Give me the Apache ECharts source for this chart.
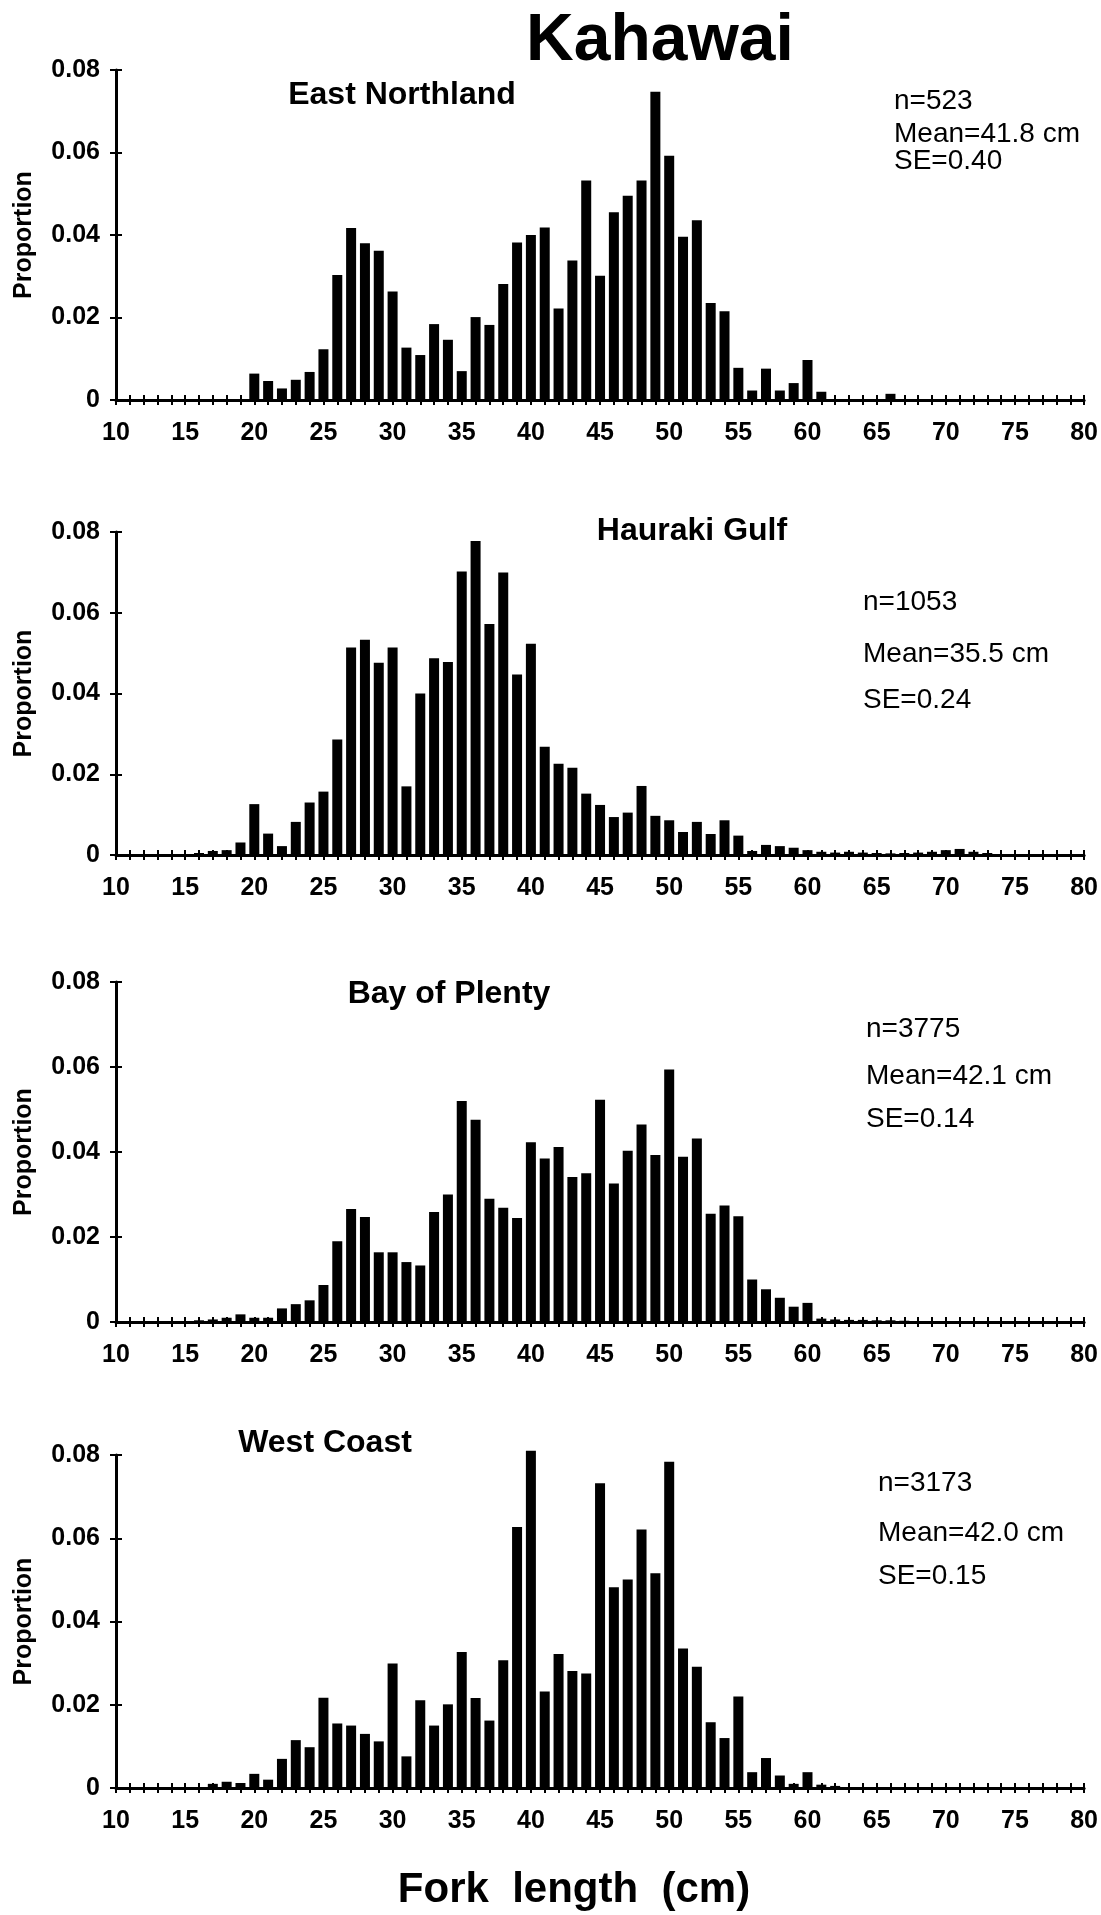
<!DOCTYPE html>
<html>
<head>
<meta charset="utf-8">
<script src="https://cdn.jsdelivr.net/npm/echarts@6/dist/echarts.min.js"></script>
<style>
html, body { margin: 0; padding: 0; background: #fff; }
#main { width: 1101px; height: 1915px; }
</style>
</head>
<body>
<div id="main"></div>
<script>
// fork length classes (cm)
var lengths = [10,11,12,13,14,15,16,17,18,19,20,21,22,23,24,25,26,27,28,29,
  30,31,32,33,34,35,36,37,38,39,40,41,42,43,44,45,46,47,48,49,
  50,51,52,53,54,55,56,57,58,59,60,61,62,63,64,65,66,67,68,69,
  70,71,72,73,74,75,76,77,78,79,80];

var eastNorthland = [0,0,0,0,0,0,0,0,0,0,
  0.0064,0.0046,0.0028,0.0049,0.0068,0.0123,0.0303,0.0417,0.0380,0.0362,
  0.0263,0.0127,0.0109,0.0184,0.0146,0.0070,0.0201,0.0182,0.0281,0.0382,
  0.0400,0.0418,0.0222,0.0338,0.0532,0.0301,0.0455,0.0495,0.0532,0.0747,
  0.0592,0.0396,0.0436,0.0235,0.0215,0.0078,0.0023,0.0076,0.0023,0.0041,
  0.0097,0.0020,0,0,0,0,0.0015,0,0,0,
  0,0,0,0,0,0,0,0,0,0,0];

var haurakiGulf = [0,0,0,0,0,0,0.0005,0.0010,0.0012,0.0031,
  0.0126,0.0053,0.0022,0.0082,0.0130,0.0157,0.0286,0.0514,0.0533,0.0476,
  0.0514,0.0170,0.0400,0.0487,0.0478,0.0702,0.0778,0.0572,0.0700,0.0447,
  0.0523,0.0268,0.0226,0.0216,0.0152,0.0124,0.0094,0.0105,0.0171,0.0097,
  0.0086,0.0057,0.0082,0.0052,0.0086,0.0048,0.0010,0.0025,0.0022,0.0018,
  0.0012,0.0008,0.0006,0.0008,0.0006,0.0005,0.0004,0.0005,0.0006,0.0008,
  0.0012,0.0015,0.0008,0.0005,0,0,0,0,0,0,0];

var bayOfPlenty = [0,0,0,0,0,0,0.0004,0.0006,0.0010,0.0018,
  0.0010,0.0010,0.0032,0.0042,0.0051,0.0087,0.0190,0.0266,0.0247,0.0164,
  0.0164,0.0141,0.0133,0.0259,0.0300,0.0520,0.0476,0.0290,0.0269,0.0245,
  0.0423,0.0385,0.0412,0.0341,0.0350,0.0523,0.0326,0.0403,0.0465,0.0393,
  0.0594,0.0389,0.0432,0.0255,0.0274,0.0249,0.0100,0.0077,0.0057,0.0036,
  0.0045,0.0008,0.0006,0.0005,0.0005,0.0004,0.0004,0.0003,0,0,
  0,0,0,0,0,0,0,0,0,0,0];

var westCoast = [0,0,0,0,0,0,0,0.0010,0.0015,0.0012,
  0.0034,0.0020,0.0070,0.0115,0.0098,0.0217,0.0155,0.0150,0.0130,0.0112,
  0.0299,0.0076,0.0211,0.0150,0.0201,0.0327,0.0216,0.0162,0.0307,0.0627,
  0.0810,0.0232,0.0322,0.0281,0.0275,0.0732,0.0482,0.0501,0.0621,0.0516,
  0.0784,0.0335,0.0291,0.0158,0.0120,0.0220,0.0038,0.0072,0.0030,0.0010,
  0.0038,0.0008,0.0005,0,0,0,0,0,0,0,
  0,0,0,0,0,0,0,0,0,0,0];

var regionNames = ['East Northland', 'Hauraki Gulf', 'Bay of Plenty', 'West Coast'];
var regionStats = [
  ['n=523', 'Mean=41.8 cm', 'SE=0.40'],
  ['n=1053', 'Mean=35.5 cm', 'SE=0.24'],
  ['n=3775', 'Mean=42.1 cm', 'SE=0.14'],
  ['n=3173', 'Mean=42.0 cm', 'SE=0.15']
];
var regionData = [eastNorthland, haurakiGulf, bayOfPlenty, westCoast];

// layout of each panel (pixels)
var panels = [
  {top: 70,   height: 330, title: [402, 95],   stats: [894, [101, 134, 161]]},
  {top: 532,  height: 323, title: [692, 531],  stats: [863, [602, 654, 700]]},
  {top: 982,  height: 340, title: [449, 994],  stats: [866, [1029, 1076, 1119]]},
  {top: 1455, height: 333, title: [325, 1443], stats: [878, [1483, 1533, 1576]]}
];

var FONT = 'Liberation Sans';
var gridLeft = 116, gridWidth = 969;

var grids = [], xAxes = [], yAxes = [], series = [], graphics = [];

panels.forEach(function (p, i) {
  grids.push({left: gridLeft, top: p.top, width: gridWidth, height: p.height});

  var xBase = {
    gridIndex: i, type: 'value', min: 10, max: 80, interval: 1, position: 'bottom',
    splitLine: {show: false}
  };
  xAxes.push(Object.assign({}, xBase, {
    axisLine: {lineStyle: {color: '#000', width: 3}},
    axisTick: {length: 5, lineStyle: {color: '#000', width: 2}},
    axisLabel: {
      color: '#000', fontFamily: FONT, fontWeight: 'bold', fontSize: 25, margin: 21,
      formatter: function (v) { return v % 5 === 0 ? String(v) : ''; }
    }
  }));
  xAxes.push(Object.assign({}, xBase, {
    axisLine: {show: false},
    axisTick: {inside: true, length: 5, lineStyle: {color: '#000', width: 2}},
    axisLabel: {show: false}
  }));

  var yBase = {
    gridIndex: i, type: 'value', min: 0, max: 0.08, interval: 0.02, position: 'left',
    splitLine: {show: false}
  };
  yAxes.push(Object.assign({}, yBase, {
    axisLine: {show: true, lineStyle: {color: '#000', width: 3}},
    axisTick: {show: true, length: 6, lineStyle: {color: '#000', width: 2}},
    axisLabel: {
      color: '#000', fontFamily: FONT, fontWeight: 'bold', fontSize: 25, margin: 16,
      formatter: function (v) { return v === 0 ? '0' : v.toFixed(2); }
    }
  }));
  yAxes.push(Object.assign({}, yBase, {
    axisLine: {show: false},
    axisTick: {show: true, inside: true, length: 6, lineStyle: {color: '#000', width: 2}},
    axisLabel: {show: false}
  }));

  series.push({
    type: 'bar', xAxisIndex: 2 * i, yAxisIndex: 2 * i,
    barWidth: 10, clip: false, silent: true,
    itemStyle: {color: '#000'},
    data: lengths.map(function (l, k) { return [l, regionData[i][k]]; })
  });

  graphics.push({
    type: 'text', x: p.title[0], y: p.title[1],
    style: {text: regionNames[i], fill: '#000', font: 'bold 32px "' + FONT + '"',
      textAlign: 'center', textVerticalAlign: 'middle'}
  });
  regionStats[i].forEach(function (s, k) {
    graphics.push({
      type: 'text', x: p.stats[0], y: p.stats[1][k],
      style: {text: s, fill: '#000', font: '28px "' + FONT + '"',
        textAlign: 'left', textVerticalAlign: 'middle'}
    });
  });
  graphics.push({
    type: 'text', x: 24, y: p.top + p.height / 2, rotation: Math.PI / 2,
    style: {text: 'Proportion', fill: '#000', font: 'bold 25px "' + FONT + '"',
      textAlign: 'center', textVerticalAlign: 'middle'}
  });
});

graphics.push({
  type: 'text', x: 660, y: 42,
  style: {text: 'Kahawai', fill: '#000', font: 'bold 66px "' + FONT + '"',
    textAlign: 'center', textVerticalAlign: 'middle'}
});
graphics.push({
  type: 'text', x: 574, y: 1890,
  style: {text: 'Fork  length  (cm)', fill: '#000', font: 'bold 42px "' + FONT + '"',
    textAlign: 'center', textVerticalAlign: 'middle'}
});

var chart = echarts.init(document.getElementById('main'));
chart.setOption({
  backgroundColor: '#fff',
  animation: false,
  grid: grids,
  xAxis: xAxes,
  yAxis: yAxes,
  series: series,
  graphic: graphics
});
</script>
</body>
</html>
